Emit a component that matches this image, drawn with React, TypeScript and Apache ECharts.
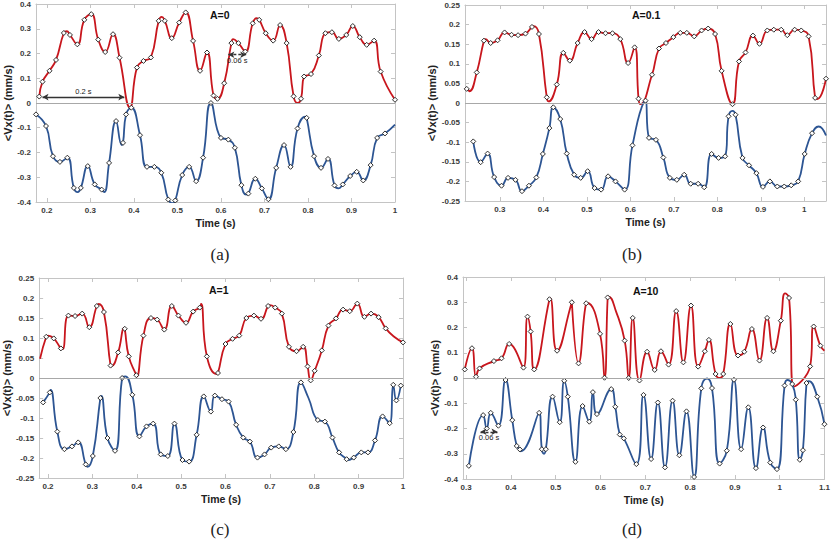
import React, { useEffect, useRef } from 'react';
import * as echarts from 'echarts';

type P = [number, number];

// ---------- Panel (a) A=0 ----------
const aRed: P[] = [[0.1825,0.026],[0.19,0.086],[0.206,0.13],[0.221,0.174],[0.239,0.283],[0.253,0.275],[0.27,0.237],[0.286,0.336],[0.302,0.359],[0.318,0.256],[0.334,0.206],[0.352,0.278],[0.367,0.183],[0.407,0.143],[0.422,0.17],[0.439,0.184],[0.457,0.332],[0.471,0.332],[0.487,0.262],[0.504,0.325],[0.519,0.366],[0.536,0.251],[0.552,0.13],[0.568,0.204],[0.583,0.03],[0.592,0.017],[0.6075,0.08],[0.624,0.242],[0.64,0.242],[0.656,0.208],[0.673,0.322],[0.688,0.336],[0.703,0.282],[0.72,0.252],[0.736,0.315],[0.751,0.242],[0.767,0.027],[0.784,0.017],[0.791,0.107],[0.807,0.117],[0.825,0.192],[0.84,0.282],[0.855,0.286],[0.871,0.259],[0.888,0.275],[0.903,0.311],[0.919,0.266],[0.935,0.235],[0.952,0.252],[0.967,0.127],[1.0,0.013]];
const aRedCurve: P[] = [[0.246,0.29],[0.391,-0.018],[0.464,0.348],[0.628,0.258],[0.682,0.343],[0.776,0.0]];
const aBlue: P[] = [[0.175,-0.046],[0.198,-0.093],[0.214,-0.215],[0.23,-0.238],[0.247,-0.221],[0.262,-0.343],[0.278,-0.343],[0.294,-0.255],[0.31,-0.329],[0.326,-0.35],[0.343,-0.242],[0.359,-0.073],[0.375,-0.161],[0.382,-0.046],[0.394,-0.019],[0.414,-0.13],[0.43,-0.258],[0.447,-0.258],[0.463,-0.282],[0.479,-0.39],[0.495,-0.394],[0.511,-0.291],[0.527,-0.258],[0.543,-0.316],[0.559,-0.221],[0.577,0.0],[0.6,-0.141],[0.617,-0.148],[0.632,-0.181],[0.647,-0.332],[0.663,-0.366],[0.679,-0.306],[0.694,-0.345],[0.709,-0.389],[0.727,-0.262],[0.745,-0.17],[0.76,-0.258],[0.776,-0.103],[0.797,-0.06],[0.814,-0.215],[0.83,-0.262],[0.846,-0.226],[0.861,-0.333],[0.88,-0.329],[0.897,-0.295],[0.912,-0.278],[0.927,-0.313],[0.944,-0.251],[0.959,-0.141],[0.977,-0.123]];
const aBlueCurve: P[] = [[0.271,-0.36],[0.332,-0.36],[0.372,-0.17],[0.49,-0.405],[0.658,-0.37],[0.794,-0.055],[0.87,-0.345],[1.0,-0.087]];

// ---------- Panel (b) A=0.1 ----------
const bRed: P[] = [[0.224,0.036],[0.247,0.078],[0.2635,0.159],[0.279,0.153],[0.295,0.16],[0.311,0.18],[0.327,0.174],[0.342,0.173],[0.359,0.177],[0.374,0.194],[0.39,0.176],[0.408,0.0145],[0.431,0.047],[0.446,0.128],[0.461,0.108],[0.479,0.153],[0.495,0.181],[0.511,0.163],[0.527,0.181],[0.543,0.178],[0.559,0.178],[0.577,0.163],[0.595,0.102],[0.61,0.142],[0.619,0.011],[0.65,0.072],[0.666,0.139],[0.682,0.153],[0.699,0.168],[0.715,0.179],[0.73,0.179],[0.747,0.17],[0.764,0.185],[0.779,0.19],[0.795,0.176],[0.81,0.082],[0.835,-0.003],[0.85,0.106],[0.865,0.129],[0.882,0.172],[0.897,0.151],[0.915,0.185],[0.93,0.187],[0.947,0.187],[0.961,0.173],[0.978,0.187],[0.993,0.185],[1.01,0.17],[1.025,0.013],[1.05,0.062]];
const bRedCurve: P[] = [[0.22,0.034],[0.23,0.03],[0.267,0.163],[0.378,0.196],[0.412,0.004],[0.623,-0.003],[1.03,0.01]];
const bBlue: P[] = [[0.239,-0.098],[0.256,-0.151],[0.272,-0.129],[0.287,-0.189],[0.304,-0.211],[0.319,-0.191],[0.336,-0.196],[0.351,-0.225],[0.367,-0.211],[0.384,-0.19],[0.399,-0.13],[0.414,-0.064],[0.423,-0.011],[0.439,-0.041],[0.454,-0.129],[0.471,-0.183],[0.486,-0.191],[0.502,-0.174],[0.518,-0.217],[0.533,-0.221],[0.549,-0.187],[0.566,-0.2],[0.587,-0.221],[0.605,-0.108],[0.635,0.006],[0.643,-0.089],[0.659,-0.094],[0.676,-0.139],[0.691,-0.191],[0.707,-0.196],[0.724,-0.183],[0.739,-0.206],[0.756,-0.206],[0.77,-0.215],[0.787,-0.13],[0.803,-0.14],[0.818,-0.136],[0.826,-0.034],[0.842,-0.03],[0.858,-0.14],[0.873,-0.159],[0.89,-0.179],[0.905,-0.214],[0.921,-0.2],[0.938,-0.213],[0.954,-0.213],[0.97,-0.21],[0.986,-0.2],[1.001,-0.13],[1.018,-0.077]];
const bBlueCurve: P[] = [[0.632,0.005],[0.835,-0.02],[1.033,-0.06],[1.05,-0.083]];

// ---------- Panel (c) A=1 ----------
const cRed: P[] = [[0.196,0.103],[0.213,0.099],[0.229,0.074],[0.246,0.156],[0.261,0.155],[0.277,0.161],[0.293,0.127],[0.31,0.18],[0.326,0.165],[0.341,0.031],[0.358,0.064],[0.373,0.123],[0.382,0.054],[0.399,0.007],[0.415,0.106],[0.432,0.15],[0.446,0.146],[0.462,0.121],[0.479,0.18],[0.494,0.156],[0.511,0.138],[0.527,0.166],[0.542,0.176],[0.558,0.054],[0.583,0.0125],[0.6,0.085],[0.616,0.098],[0.631,0.106],[0.647,0.15],[0.664,0.156],[0.68,0.148],[0.696,0.18],[0.712,0.176],[0.727,0.161],[0.743,0.078],[0.76,0.067],[0.775,0.078],[0.785,0.029],[0.792,-0.006],[0.801,0.018],[0.817,0.069],[0.832,0.131],[0.849,0.149],[0.865,0.171],[0.88,0.167],[0.897,0.186],[0.913,0.153],[0.928,0.161],[0.945,0.152],[0.961,0.124],[1.0,0.089]];
const cRedCurve: P[] = [[0.182,0.048],[0.2,0.106],[0.233,0.072],[0.314,0.185],[0.343,0.03],[0.372,0.125],[0.4,0.004],[0.545,0.185],[0.58,0.01],[0.7,0.182],[0.98,0.103]];
const cBlue: P[] = [[0.189,-0.061],[0.204,-0.036],[0.221,-0.134],[0.237,-0.178],[0.254,-0.171],[0.268,-0.161],[0.285,-0.216],[0.301,-0.195],[0.318,-0.05],[0.334,-0.15],[0.351,-0.182],[0.367,0.0],[0.39,-0.042],[0.406,-0.146],[0.422,-0.121],[0.437,-0.114],[0.454,-0.191],[0.47,-0.195],[0.485,-0.114],[0.503,-0.205],[0.518,-0.209],[0.535,-0.142],[0.551,-0.046],[0.567,-0.084],[0.576,-0.044],[0.592,-0.053],[0.607,-0.059],[0.624,-0.117],[0.64,-0.149],[0.655,-0.159],[0.672,-0.199],[0.688,-0.191],[0.703,-0.174],[0.72,-0.171],[0.736,-0.178],[0.753,-0.135],[0.77,-0.011],[0.808,-0.105],[0.824,-0.109],[0.841,-0.149],[0.856,-0.186],[0.873,-0.203],[0.889,-0.199],[0.906,-0.186],[0.921,-0.186],[0.937,-0.156],[0.954,-0.096],[0.97,-0.113],[0.978,-0.017],[0.985,-0.056],[0.995,-0.019]];
const cBlueCurve: P[] = [[0.206,-0.03],[0.289,-0.222],[0.32,-0.045],[0.374,0.004],[0.787,-0.05],[0.875,-0.205]];

// ---------- Panel (d) A=10 ----------
const dRed: P[] = [[0.297,0.034],[0.313,0.118],[0.322,0.005],[0.33,0.038],[0.362,0.067],[0.379,0.078],[0.396,0.135],[0.428,0.041],[0.437,0.243],[0.444,0.184],[0.452,0.034],[0.486,0.312],[0.503,0.108],[0.536,0.3],[0.551,0.058],[0.568,0.296],[0.599,0.175],[0.609,0.001],[0.616,0.319],[0.654,0.148],[0.663,0.0],[0.672,0.238],[0.687,-0.01],[0.704,0.104],[0.721,0.032],[0.735,0.106],[0.752,0.053],[0.769,0.265],[0.785,0.062],[0.802,0.287],[0.818,0.045],[0.833,0.106],[0.842,0.151],[0.857,0.016],[0.874,0.016],[0.89,0.214],[0.907,0.089],[0.921,0.104],[0.938,0.194],[0.955,0.069],[0.972,0.238],[0.986,0.106],[1.0026,0.227],[1.021,0.317],[1.068,0.046],[1.076,0.204],[1.091,0.128]];
const dRedCurve: P[] = [[0.488,0.315],[0.537,0.302],[0.57,0.297],[0.618,0.322],[0.635,0.262],[0.866,0.0],[1.012,0.335],[1.032,-0.034],[1.1,0.108]];
const dBlue: P[] = [[0.306,-0.348],[0.338,-0.147],[0.346,-0.2],[0.355,-0.138],[0.372,-0.189],[0.388,-0.008],[0.403,-0.167],[0.413,-0.269],[0.42,-0.283],[0.463,-0.138],[0.469,-0.282],[0.478,-0.282],[0.493,-0.074],[0.509,-0.175],[0.519,-0.011],[0.527,-0.074],[0.544,-0.332],[0.56,-0.111],[0.575,-0.173],[0.583,-0.056],[0.592,-0.143],[0.624,-0.044],[0.633,-0.114],[0.643,-0.224],[0.652,-0.239],[0.68,-0.341],[0.696,-0.067],[0.713,-0.321],[0.728,-0.097],[0.744,-0.354],[0.761,-0.09],[0.776,-0.306],[0.792,-0.132],[0.809,-0.392],[0.825,-0.041],[0.849,-0.04],[0.866,-0.339],[0.882,-0.288],[0.898,-0.007],[0.914,-0.282],[0.93,-0.116],[0.947,-0.357],[0.963,-0.196],[0.979,-0.335],[0.994,-0.361],[1.011,-0.03],[1.028,-0.024],[1.036,-0.086],[1.045,-0.324],[1.052,-0.286],[1.06,-0.02],[1.084,-0.074],[1.1,-0.183]];
const dBlueCurve: P[] = [[0.422,-0.29],[0.474,-0.3],[0.838,-0.002],[1.017,-0.008],[1.065,-0.012]];

// annotations
const aSpanLong: [P, P] = [[0.19, 0.024], [0.378, 0.024]];
const aSpanShort: [P, P] = [[0.617, 0.195], [0.658, 0.195]];
const dSpanShort: [P, P] = [[0.332, -0.213], [0.37, -0.213]];

const titles = ['A=0', 'A=0.1', 'A=1', 'A=10'];
const captions = ['(a)', '(b)', '(c)', '(d)'];
const xTitle = 'Time (s)';
const yTitle = '<Vx(t)> (mm/s)';

const RED = '#c8161d';
const BLUE = '#2d5593';
const FRAME = '#c4c4c4';
const SANS = '"Liberation Sans", Arial, sans-serif';

interface Panel {
  grid: { left: number; top: number; width: number; height: number };
  xMin: number; xMax: number; yMin: number; yMax: number; yStep: number;
  red: P[]; redCurve: P[]; blue: P[]; blueCurve: P[];
  spans: { pts: [P, P]; label: string; dashed: boolean; pos: string }[];
  titlePos: [number, number];
  capPos: [number, number];
}

const panels: Panel[] = [
  { grid: { left: 36, top: 4, width: 359, height: 198 }, xMin: 0.175, xMax: 1.0, yMin: -0.4, yMax: 0.4, yStep: 0.1,
    red: aRed, redCurve: aRedCurve, blue: aBlue, blueCurve: aBlueCurve,
    spans: [{ pts: aSpanLong, label: '0.2 s', dashed: false, pos: 'insideMiddleTop' }, { pts: aSpanShort, label: '0.06 s', dashed: true, pos: 'insideMiddleBottom' }],
    titlePos: [210, 9], capPos: [220, 254] },
  { grid: { left: 465, top: 5, width: 361, height: 196 }, xMin: 0.22, xMax: 1.05, yMin: -0.25, yMax: 0.25, yStep: 0.05,
    red: bRed, redCurve: bRedCurve, blue: bBlue, blueCurve: bBlueCurve, spans: [],
    titlePos: [632, 9], capPos: [632, 254] },
  { grid: { left: 33, top: 278, width: 370, height: 200 }, xMin: 0.18, xMax: 1.0, yMin: -0.25, yMax: 0.25, yStep: 0.05,
    red: cRed, redCurve: cRedCurve, blue: cBlue, blueCurve: cBlueCurve, spans: [],
    titlePos: [209, 284], capPos: [220, 529] },
  { grid: { left: 463, top: 277, width: 363, height: 202 }, xMin: 0.293, xMax: 1.1, yMin: -0.4, yMax: 0.4, yStep: 0.1,
    red: dRed, redCurve: dRedCurve, blue: dBlue, blueCurve: dBlueCurve,
    spans: [{ pts: dSpanShort, label: '0.06 s', dashed: true, pos: 'insideMiddleBottom' }],
    titlePos: [633, 285], capPos: [632, 529] },
];

function build(pts: P[], curve: P[]) {
  const items: any[] = [
    ...pts.map((p) => ({ value: p })),
    ...curve.map((p) => ({ value: p, symbol: 'none' })),
  ];
  items.sort((a, b) => a.value[0] - b.value[0]);
  return items;
}

const fmt = (v: number) => String(parseFloat(v.toFixed(3)));
const xFmt = (v: number) => (Math.abs(v * 10 - Math.round(v * 10)) < 1e-6 ? fmt(v) : '');

function makeOption() {
  const grid: any[] = [];
  const xAxis: any[] = [];
  const yAxis: any[] = [];
  const series: any[] = [];
  const graphic: any[] = [];
  const labelStyle = { fontSize: 8, fontWeight: 'bold', color: '#3a3a3a', fontFamily: SANS };
  const tick = { show: true, inside: true, length: 4, lineStyle: { color: FRAME } };
  panels.forEach((p, i) => {
    grid.push({ ...p.grid });
    const line = { show: true, onZero: false, lineStyle: { color: FRAME, width: 1 } };
    xAxis.push({
      type: 'value', gridIndex: i, position: 'bottom', min: p.xMin, max: p.xMax, splitNumber: 8,
      axisLine: line, axisTick: tick, splitLine: { show: false },
      axisLabel: { ...labelStyle, margin: 4, formatter: xFmt, showMinLabel: true, showMaxLabel: true },
      name: xTitle, nameLocation: 'middle', nameGap: 15,
      nameTextStyle: { fontSize: 10.5, fontWeight: 'bold', color: '#222', fontFamily: SANS },
    });
    xAxis.push({
      type: 'value', gridIndex: i, position: 'top', min: p.xMin, max: p.xMax, splitNumber: 8,
      axisLine: line, axisTick: tick, splitLine: { show: false }, axisLabel: { show: false },
    });
    yAxis.push({
      type: 'value', gridIndex: i, position: 'left', min: p.yMin, max: p.yMax, interval: p.yStep,
      axisLine: line, axisTick: tick, splitLine: { show: false },
      axisLabel: { ...labelStyle, margin: 5, formatter: fmt },
      name: yTitle, nameLocation: 'middle', nameGap: p.yStep === 0.05 ? 24 : 18, nameRotate: 90,
      nameTextStyle: { fontSize: 11, fontWeight: 'bold', color: '#222', fontFamily: SANS },
    });
    yAxis.push({
      type: 'value', gridIndex: i, position: 'right', min: p.yMin, max: p.yMax, interval: p.yStep,
      axisLine: line, axisTick: tick, splitLine: { show: false }, axisLabel: { show: false },
    });
    const xi = i * 2;
    const yi = i * 2;
    series.push({
      type: 'line', xAxisIndex: xi, yAxisIndex: yi, data: [], z: 1, silent: true,
      markLine: {
        silent: true, symbol: ['none', 'none'], animation: false,
        lineStyle: { color: '#a8a8a8', width: 1, type: 'solid' }, label: { show: false },
        data: [{ yAxis: 0 }],
      },
    });
    const common = {
      type: 'line', xAxisIndex: xi, yAxisIndex: yi, smooth: 0.5, clip: true,
      symbol: 'diamond', symbolSize: 5, showAllSymbol: true, z: 3,
      itemStyle: { color: '#ffffff', borderColor: '#1a1a1a', borderWidth: 0.9 },
    };
    series.push({ ...common, name: 'red' + i, data: build(p.red, p.redCurve), lineStyle: { color: RED, width: 1.8 } });
    series.push({ ...common, name: 'blue' + i, data: build(p.blue, p.blueCurve), lineStyle: { color: BLUE, width: 1.8 } });
    if (p.spans.length) {
      series.push({
        type: 'line', xAxisIndex: xi, yAxisIndex: yi, data: [], z: 4, silent: true,
        markLine: {
          silent: true, animation: false, symbol: ['arrow', 'arrow'], symbolSize: [5, 6],
          data: p.spans.map((s) => [
            {
              coord: s.pts[0],
              lineStyle: { color: '#333', width: 1.3, type: s.dashed ? [3, 2] : 'solid' },
              label: { show: true, formatter: s.label, position: s.pos, distance: 2, fontSize: 7.5, color: '#222', fontFamily: SANS },
            },
            { coord: s.pts[1] },
          ]),
        },
      });
    }
    graphic.push({
      type: 'text', x: p.titlePos[0], y: p.titlePos[1],
      style: { text: titles[i], fontSize: 10.5, fontWeight: 'bold', fontFamily: SANS, fill: '#111' },
    });
    graphic.push({
      type: 'text', x: p.capPos[0], y: p.capPos[1],
      style: { text: captions[i], fontSize: 17, fontFamily: '"Liberation Serif", "Times New Roman", serif', fill: '#222', align: 'center', verticalAlign: 'middle' },
    });
  });
  return { animation: false, backgroundColor: '#ffffff', grid, xAxis, yAxis, series, graphic };
}

export default function App() {
  const ref = useRef<HTMLDivElement>(null);
  useEffect(() => {
    if (!ref.current) return;
    const chart = echarts.init(ref.current, undefined, { renderer: 'svg' });
    chart.setOption(makeOption() as any);
    return () => chart.dispose();
  }, []);
  return (
    <div
      ref={ref}
      style={{ position: 'fixed', left: 0, top: 0, width: 833, height: 548, background: '#fff' }}
    />
  );
}
